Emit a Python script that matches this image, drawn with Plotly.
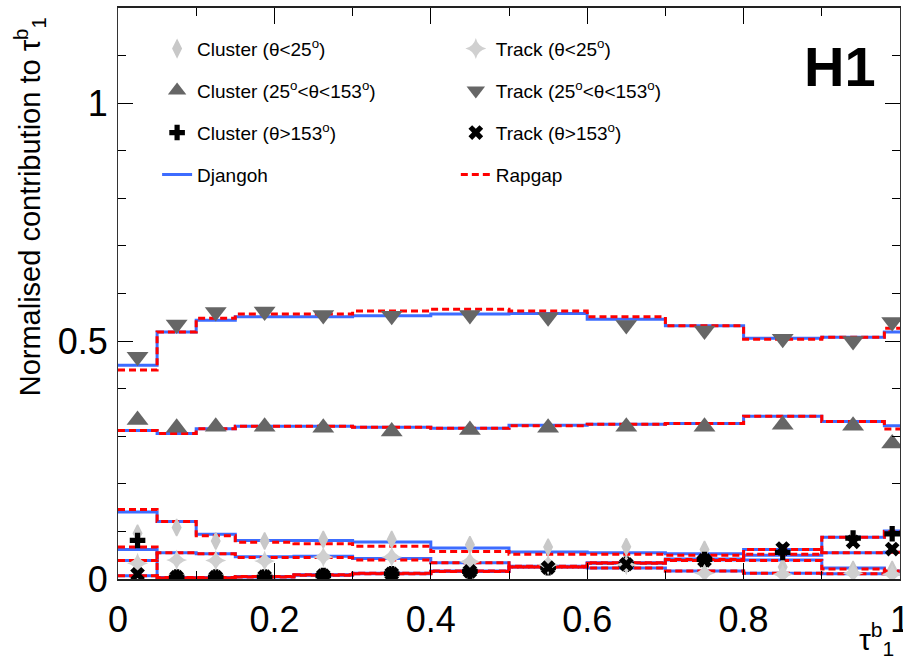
import plotly.graph_objects as go

# ---- binning ----
edges = [0, 0.05, 0.1, 0.15, 0.225, 0.3, 0.4, 0.5, 0.6, 0.7, 0.8, 0.9, 0.98, 1.0]
centers = [(a + b) / 2 for a, b in zip(edges[:-1], edges[1:])]

# ---- data points ----
cl_fwd = [0.096, 0.108, 0.080, 0.080, 0.083, 0.083, 0.072, 0.067, 0.068, 0.062, 0.025, 0.020, 0.020]
cl_cen = [0.334, 0.318, 0.320, 0.320, 0.318, 0.310, 0.313, 0.318, 0.320, 0.320, 0.324, 0.322, 0.285]
cl_bwd = [0.081, 0.004, 0.004, 0.004, 0.007, 0.011, 0.016, 0.024, 0.031, 0.041, 0.056, 0.086, 0.095]
tr_fwd = [0.033, 0.040, 0.039, 0.038, 0.046, 0.046, 0.036, 0.030, 0.030, 0.012, 0.010, 0.012, 0.010]
tr_cen = [0.467, 0.535, 0.561, 0.562, 0.555, 0.553, 0.555, 0.550, 0.534, 0.522, 0.505, 0.500, 0.540]
tr_bwd = [0.010, 0.004, 0.004, 0.005, 0.007, 0.011, 0.016, 0.024, 0.031, 0.039, 0.064, 0.078, 0.063]

# ---- Djangoh ----
dj_cl_fwd = [0.141, 0.121, 0.094, 0.081, 0.081, 0.078, 0.065, 0.057, 0.055, 0.053, 0.040, 0.023, 0.017]
dj_cl_cen = [0.312, 0.306, 0.316, 0.321, 0.321, 0.319, 0.317, 0.323, 0.325, 0.327, 0.342, 0.331, 0.322]
dj_cl_bwd = [0.062, 0.003, 0.003, 0.005, 0.009, 0.012, 0.017, 0.026, 0.034, 0.042, 0.050, 0.088, 0.101]
dj_tr_fwd = [0.039, 0.055, 0.053, 0.047, 0.048, 0.043, 0.034, 0.027, 0.023, 0.017, 0.012, 0.011, 0.011]
dj_tr_cen = [0.449, 0.519, 0.544, 0.551, 0.551, 0.553, 0.557, 0.558, 0.546, 0.532, 0.506, 0.508, 0.519]
dj_tr_bwd = [0.007, 0.002, 0.002, 0.004, 0.008, 0.011, 0.016, 0.025, 0.033, 0.040, 0.062, 0.055, 0.056]

# ---- Rapgap ----
rg_cl_fwd = [0.146, 0.121, 0.091, 0.077, 0.074, 0.069, 0.058, 0.052, 0.052, 0.050, 0.039, 0.021, 0.017]
rg_cl_cen = [0.312, 0.306, 0.316, 0.321, 0.321, 0.319, 0.317, 0.322, 0.325, 0.327, 0.342, 0.331, 0.315]
rg_cl_bwd = [0.067, 0.003, 0.003, 0.005, 0.009, 0.012, 0.017, 0.025, 0.034, 0.041, 0.052, 0.088, 0.100]
rg_tr_fwd = [0.039, 0.055, 0.053, 0.045, 0.045, 0.040, 0.034, 0.027, 0.023, 0.017, 0.012, 0.011, 0.011]
rg_tr_cen = [0.439, 0.519, 0.548, 0.557, 0.557, 0.563, 0.567, 0.563, 0.551, 0.532, 0.504, 0.508, 0.527]
rg_tr_bwd = [0.007, 0.002, 0.002, 0.004, 0.008, 0.011, 0.016, 0.025, 0.033, 0.039, 0.062, 0.055, 0.056]

labels_cl = ["Cluster (θ&lt;25<sup>o</sup>)", "Cluster (25<sup>o</sup>&lt;θ&lt;153<sup>o</sup>)", "Cluster (θ&gt;153<sup>o</sup>)"]
labels_tr = ["Track (θ&lt;25<sup>o</sup>)", "Track (25<sup>o</sup>&lt;θ&lt;153<sup>o</sup>)", "Track (θ&gt;153<sup>o</sup>)"]

BLUE = "#3d6cff"
RED = "#ff0000"
FONT = "Liberation Sans, Arial, sans-serif"

fig = go.Figure()

def step(vals):
    return edges, list(vals) + [vals[-1]]

# MC lines (drawn beneath markers)
dj_sets = [dj_cl_fwd, dj_cl_cen, dj_cl_bwd, dj_tr_fwd, dj_tr_cen, dj_tr_bwd]
rg_sets = [rg_cl_fwd, rg_cl_cen, rg_cl_bwd, rg_tr_fwd, rg_tr_cen, rg_tr_bwd]
for i, v in enumerate(dj_sets):
    x, y = step(v)
    fig.add_trace(go.Scatter(x=x, y=y, mode="lines", line=dict(shape="hv", color=BLUE, width=3),
                             name="Djangoh", legendgroup="dj", showlegend=(i == 0),
                             legend="legend", legendrank=4, hoverinfo="skip"))
for i, v in enumerate(rg_sets):
    x, y = step(v)
    fig.add_trace(go.Scatter(x=x, y=y, mode="lines",
                             line=dict(shape="hv", color=RED, width=3, dash="7px,4px"),
                             name="Rapgap", legendgroup="rg", showlegend=(i == 0),
                             legend="legend2", legendrank=8, hoverinfo="skip"))

# data markers
mk = [
    (cl_fwd, labels_cl[0], dict(symbol="diamond-tall", size=12, color="#c8c8c8", line=dict(width=1.5, color="#c8c8c8")), "legend", 1),
    (cl_cen, labels_cl[1], dict(symbol="triangle-up", size=19, color="#666666"), "legend", 2),
    (cl_bwd, labels_cl[2], dict(symbol="cross", size=13, color="#000000"), "legend", 3),
    (tr_fwd, labels_tr[0], dict(symbol="star-diamond", size=15, color="#d0d0d0"), "legend2", 5),
    (tr_cen, labels_tr[1], dict(symbol="triangle-down", size=19, color="#666666"), "legend2", 6),
    (tr_bwd, labels_tr[2], dict(symbol="x", size=13, color="#000000"), "legend2", 7),
]
for vals, name, marker, leg, rank in mk:
    fig.add_trace(go.Scatter(x=centers, y=vals, mode="markers", marker=marker, name=name,
                             legendgroup=name, legend=leg, legendrank=rank))

axis_common = dict(showline=True, linecolor="#333333", linewidth=1, mirror="allticks",
                   ticks="inside", tickcolor="#000000", showgrid=False, zeroline=False,
                   automargin=False,
                   tickfont=dict(family=FONT, size=36, color="#000000"))

fig.update_xaxes(range=[0, 1], tickvals=[0, 0.2, 0.4, 0.6, 0.8, 1.0],
                 ticktext=["0", "0.2", "0.4", "0.6", "0.8", "1"], ticklen=16,
                 ticklabeloverflow="allow", ticklabelstandoff=8,
                 minor=dict(ticks="inside", ticklen=8, dtick=0.1, tick0=0, tickcolor="#000000", showgrid=False),
                 **axis_common)
fig.update_yaxes(range=[0, 1.2], tickvals=[0, 0.5, 1.0], ticktext=["0", "0.5", "1"], ticklen=15,
                 ticklabelstandoff=2,
                 minor=dict(ticks="inside", ticklen=8, dtick=0.1, tick0=0, tickcolor="#000000", showgrid=False),
                 **axis_common)

# ROOT-like darker bottom axis
fig.update_xaxes(linecolor="#222222", linewidth=1.5)

leg_common = dict(font=dict(family=FONT, size=19, color="#000000"), bgcolor="rgba(0,0,0,0)",
                  orientation="v", tracegroupgap=14.3, yanchor="top", xanchor="left", itemsizing="trace")
fig.update_layout(
    width=903, height=660,
    margin=dict(l=118, r=3, t=8, b=81, autoexpand=False),
    paper_bgcolor="white", plot_bgcolor="white",
    font=dict(family=FONT, color="#000000"),
    legend=dict(x=0.05, y=0.962, **leg_common),
    legend2=dict(x=0.432, y=0.962, **leg_common),
    showlegend=True,
)

fig.add_annotation(text="<b>H1</b>", xref="paper", yref="paper", x=0.923, y=0.898,
                   xanchor="center", yanchor="middle", showarrow=False,
                   font=dict(family=FONT, size=56, color="#000000"))
fig.add_annotation(text="Normalised contribution to τ<sup>b</sup><sub>1</sub>", xref="paper", yref="paper",
                   x=-0.1125, y=0.651, xanchor="center", yanchor="middle", textangle=-90, showarrow=False,
                   font=dict(family=FONT, size=29, color="#000000"))
fig.add_annotation(text="τ<sup>b</sup><sub>1</sub>", xref="paper", yref="paper",
                   x=0.995, y=-0.105, xanchor="right", yanchor="middle", showarrow=False,
                   font=dict(family=FONT, size=30, color="#000000"))

fig.write_html("out.html")
